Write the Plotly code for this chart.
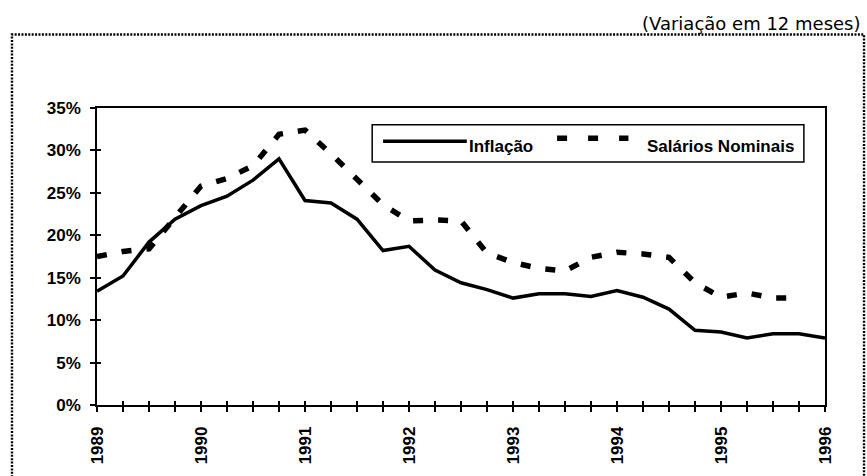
import plotly.graph_objects as go

# Quarterly observations, 1989 Q1 to 1996 Q1 (decimal years)
periods = [1989.00, 1989.25, 1989.50, 1989.75,
           1990.00, 1990.25, 1990.50, 1990.75,
           1991.00, 1991.25, 1991.50, 1991.75,
           1992.00, 1992.25, 1992.50, 1992.75,
           1993.00, 1993.25, 1993.50, 1993.75,
           1994.00, 1994.25, 1994.50, 1994.75,
           1995.00, 1995.25, 1995.50, 1995.75,
           1996.00]

# 12-month variation (%)
inflacao = [13.4, 15.2, 19.2, 21.9,
            23.5, 24.6, 26.5, 29.0,
            24.1, 23.8, 21.9, 18.2,
            18.7, 15.9, 14.4, 13.6,
            12.6, 13.1, 13.1, 12.8,
            13.5, 12.7, 11.3, 8.8,
            8.6, 7.9, 8.4, 8.4,
            7.9]

salarios_nominais = [17.5, 18.1, 18.4, 22.0,
                     25.8, 26.7, 28.2, 31.9,
                     32.4, 29.6, 26.5, 23.6,
                     21.7, 21.8, 21.7, 17.9,
                     16.8, 16.1, 15.8, 17.4,
                     18.0, 17.8, 17.4, 14.4,
                     12.7, 13.2, 12.6, 12.6,
                     None]

series_names = ["Inflação", "Salários Nominais"]
y_ticks = [0, 5, 10, 15, 20, 25, 30, 35]
y_tick_labels = ["0%", "5%", "10%", "15%", "20%", "25%", "30%", "35%"]
subtitle = "(Variação em 12 meses)"

x_range = [periods[0], periods[-1]]
y_range = [y_ticks[0], y_ticks[-1]]

# year label on each full year, blank on the intermediate quarters
tick_text = [str(int(p)) if p == int(p) else "" for p in periods]

BOLD = dict(family="Liberation Sans, Arial, sans-serif", size=17, color="black", weight="bold")

fig = go.Figure()
fig.add_trace(go.Scatter(
    x=periods, y=inflacao, name=series_names[0], mode="lines",
    line=dict(color="black", width=3.5), showlegend=False,
))
fig.add_trace(go.Scatter(
    x=periods, y=salarios_nominais, name=series_names[1], mode="lines",
    line=dict(color="black", width=5.5, dash="10px,15px"), showlegend=False,
    xaxis="x2", yaxis="y2",
))

fig.update_layout(
    width=867, height=476,
    margin=dict(l=97, r=42, t=108, b=65),
    paper_bgcolor="white", plot_bgcolor="white",
    xaxis=dict(
        range=x_range, tickmode="array", tickvals=periods, ticktext=tick_text,
        tickangle=-90, ticks="outside", ticklen=5, tickwidth=1.5, tickcolor="black",
        ticklabelstandoff=8, tickfont=BOLD,
        showline=True, linecolor="black", linewidth=1.5, mirror=True,
        showgrid=False, zeroline=False,
    ),
    yaxis=dict(
        range=y_range, tickmode="array", tickvals=y_ticks, ticktext=y_tick_labels,
        ticks="outside", ticklen=5, tickwidth=1.5, tickcolor="black",
        ticklabelstandoff=6, tickfont=BOLD,
        showline=True, linecolor="black", linewidth=1.5, mirror=True,
        showgrid=False, zeroline=False,
    ),
    # companion axes: inner half of the crossing tick marks, heavier bottom/left lines
    xaxis2=dict(
        range=x_range, overlaying="x", anchor="y2", side="bottom",
        tickmode="array", tickvals=periods, showticklabels=False,
        ticks="inside", ticklen=4, tickwidth=1.5, tickcolor="black",
        showline=True, linecolor="black", linewidth=2.2,
        showgrid=False, zeroline=False,
    ),
    yaxis2=dict(
        range=y_range, overlaying="y", anchor="x2", side="left",
        tickmode="array", tickvals=y_ticks, showticklabels=False,
        ticks="inside", ticklen=4, tickwidth=1.5, tickcolor="black",
        showline=True, linecolor="black", linewidth=2.2,
        showgrid=False, zeroline=False,
    ),
)

# dotted frame around the panel
fig.add_shape(type="rect", xref="paper", yref="paper",
              x0=-0.1168, x1=1.0536, y0=-0.30, y1=1.2475,
              line=dict(color="black", width=2.4, dash="2px,1.4px"),
              fillcolor="rgba(0,0,0,0)", layer="below")

# legend box with line samples
fig.add_shape(type="rect", xref="paper", yref="paper",
              x0=0.378, x1=0.971, y0=0.818, y1=0.944,
              line=dict(color="black", width=1.5), fillcolor="white", layer="above")
fig.add_shape(type="line", xref="paper", yref="paper",
              x0=0.393, x1=0.508, y0=0.888, y1=0.888,
              line=dict(color="black", width=3.5))
fig.add_shape(type="line", xref="paper", yref="paper",
              x0=0.632, x1=0.730, y0=0.898, y1=0.898,
              line=dict(color="black", width=5.5, dash="10px,21px"))
fig.add_annotation(text=series_names[0], xref="paper", yref="paper",
                   x=0.508, y=0.872, xanchor="left", yanchor="middle",
                   showarrow=False, font=BOLD)
fig.add_annotation(text=series_names[1], xref="paper", yref="paper",
                   x=0.753, y=0.872, xanchor="left", yanchor="middle",
                   showarrow=False, font=BOLD)

fig.add_annotation(text=subtitle, xref="paper", yref="paper",
                   x=1.0508, y=1.284, xanchor="right", yanchor="middle",
                   showarrow=False,
                   font=dict(family="DejaVu Sans, sans-serif", size=18, color="black"))

fig.write_html("out.html")
